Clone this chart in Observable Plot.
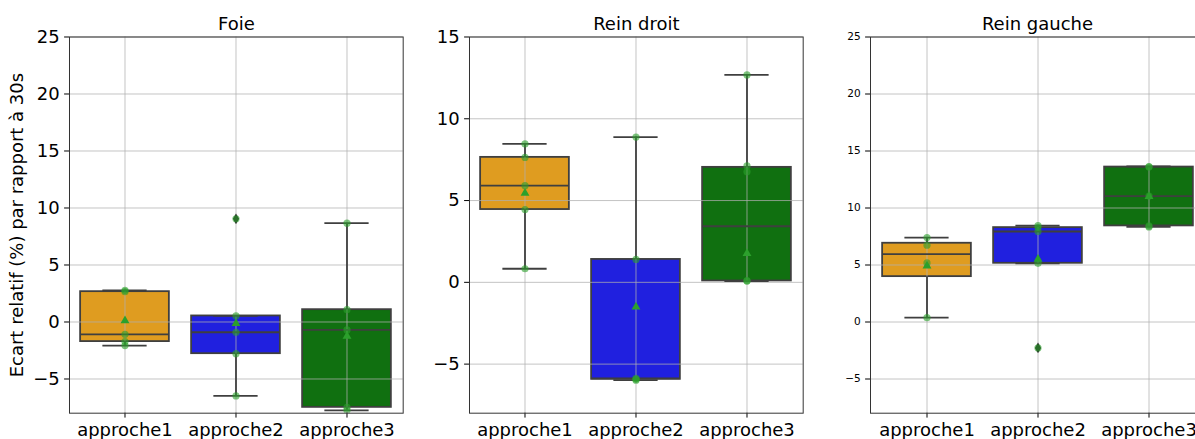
<!DOCTYPE html>
<html><head><meta charset="utf-8">
<script src="https://cdn.jsdelivr.net/npm/d3@7"></script>
<script src="https://cdn.jsdelivr.net/npm/@observablehq/plot@0.6"></script>
<style>
body{margin:0;background:#fff;overflow:hidden;}
#wrap{position:relative;width:1195px;height:439px;overflow:hidden;font-family:"DejaVu Sans";}
#wrap svg{position:absolute;top:0;max-width:none;}
</style></head><body><div id="wrap"></div>
<script>
// ---- data ----
const categories = ["approche1", "approche2", "approche3"];
const titles = ["Foie", "Rein droit", "Rein gauche"];
const yLabel = "Ecart relatif (%) par rapport à 30s";

const foie1 = [-2.07, -1.72, -1.08, 2.66, 2.78];
const foie2 = [-6.49, -2.78, -0.90, 0.53, 9.05];
const foie3 = [-7.75, -7.49, -0.70, 1.08, 8.67];

const reinDroit1 = [0.83, 4.45, 5.91, 7.64, 8.46];
const reinDroit2 = [-5.98, -5.93, -5.87, 1.40, 8.88];
const reinDroit3 = [-16.1, 0.08, 0.10, 6.76, 7.12, 12.68];

const reinGauche1 = [0.38, 5.18, 6.74, 7.41];
const reinGauche2 = [-2.27, 5.15, 7.94, 8.28, 8.46];
const reinGauche3 = [8.34, 8.43, 11.05, 13.59, 13.64];

const ticksWide = [-5, 0, 5, 10, 15, 20, 25];
const ticksDroit = [-5, 0, 5, 10, 15];

const boxColors = ["#DF9C20", "#2020DF", "#107010"];

// ---- layout ----
const panels = [
  {title: titles[0], series: [foie1, foie2, foie3], left: 69, right: 402.7, domain: [-8, 25], ticks: ticksWide, tickFont: 18, ylabel: true},
  {title: titles[1], series: [reinDroit1, reinDroit2, reinDroit3], left: 469.3, right: 803, domain: [-8, 15], ticks: ticksDroit, tickFont: 18, ylabel: false},
  {title: titles[2], series: [reinGauche1, reinGauche2, reinGauche3], left: 870, right: 1204, domain: [-8, 25], ticks: ticksWide, tickFont: 10.5, ylabel: false}
];

function boxStats(cat, values) {
  const s = values.slice().sort(d3.ascending);
  const q1 = d3.quantileSorted(s, 0.25), med = d3.quantileSorted(s, 0.5), q3 = d3.quantileSorted(s, 0.75);
  const iqr = q3 - q1;
  const inside = s.filter(d => d >= q1 - 1.5 * iqr && d <= q3 + 1.5 * iqr);
  return {cat, q1, med, q3, lo: d3.min(inside), hi: d3.max(inside), mean: d3.mean(s),
          fliers: s.filter(d => d < q1 - 1.5 * iqr || d > q3 + 1.5 * iqr)};
}

const wrap = document.getElementById("wrap");
const H = 439, frameTop = 36.5, frameBottom = 412.7;
const edge = "#3f3f3f", lw = 1.8;

panels.forEach((p, i) => {
  const mL = i === 0 ? p.left : 60;
  const mR = 6;
  const w = p.right - p.left;
  const bw = w / 3;
  const st = p.series.map((v, k) => boxStats(categories[k], v));
  const pts = p.series.flatMap((v, k) => v.map(d => ({cat: categories[k], v: d})));
  const fl = st.flatMap(s => s.fliers.map(d => ({cat: s.cat, v: d})));
  const marks = [
    Plot.barY(st, {x: "cat", y1: "q1", y2: "q3", fill: "cat", stroke: edge, strokeWidth: lw, insetLeft: bw * 0.1, insetRight: bw * 0.1}),
    Plot.gridY(p.ticks, {stroke: "#b0b0b0", strokeOpacity: 0.75, strokeWidth: 1}),
    Plot.gridX(categories, {stroke: "#b0b0b0", strokeOpacity: 0.75, strokeWidth: 1}),
    Plot.ruleX(st, {x: "cat", y1: "q3", y2: "hi", stroke: edge, strokeWidth: lw}),
    Plot.ruleX(st, {x: "cat", y1: "lo", y2: "q1", stroke: edge, strokeWidth: lw}),
    Plot.tickY(st, {x: "cat", y: "hi", inset: bw * 0.3, stroke: edge, strokeWidth: lw}),
    Plot.tickY(st, {x: "cat", y: "lo", inset: bw * 0.3, stroke: edge, strokeWidth: lw}),
    Plot.tickY(st, {x: "cat", y: "med", inset: bw * 0.1, stroke: edge, strokeWidth: lw}),
    Plot.dot(fl, {x: "cat", y: "v", symbol: "diamond", fill: "#2a2a2a", r: 3.3, clip: true}),
    Plot.dot(st, {x: "cat", y: "mean", symbol: "triangle", fill: "#2ca02c", r: 3.3}),
    Plot.dot(pts, {x: "cat", y: "v", fill: "#2ca02c", fillOpacity: 0.6, r: 3.6, clip: true}),
    Plot.axisY({ticks: p.ticks, tickSize: 4.9, tickPadding: 4.9, fontSize: p.tickFont, label: null}),
    Plot.axisX({tickSize: 4.9, tickPadding: 4.9, fontSize: 18, label: null}),
    Plot.frame({stroke: "#333", strokeWidth: 1}),
    Plot.text([p.title], {frameAnchor: "top", dy: -7.3, lineAnchor: "bottom", fontSize: 18, fill: "black"})
  ];
  if (p.ylabel) {
    marks.push(Plot.text([yLabel], {frameAnchor: "left", textAnchor: "middle", dx: -47, rotate: -90, lineAnchor: "bottom", fontSize: 18, fill: "black"}));
  }
  const svg = Plot.plot({
    width: mL + w + mR,
    height: H,
    marginTop: frameTop,
    marginBottom: H - frameBottom,
    marginLeft: mL,
    marginRight: mR,
    x: {type: "band", domain: categories, padding: 0, label: null},
    y: {domain: p.domain, label: null},
    color: {domain: categories, range: boxColors},
    style: {fontFamily: "DejaVu Sans", color: "black", background: "transparent", overflow: "visible"},
    marks
  });
  svg.style.left = (p.left - mL) + "px";
  wrap.appendChild(svg);
});
</script>
</body></html>
